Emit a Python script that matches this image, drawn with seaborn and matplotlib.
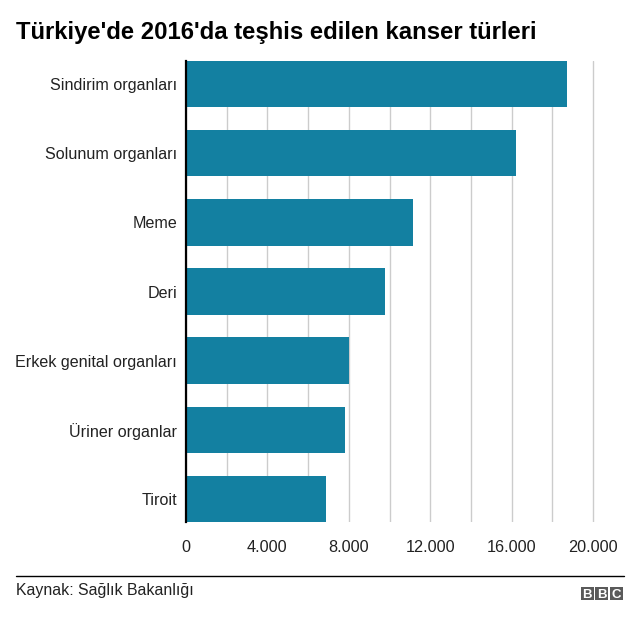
import matplotlib
matplotlib.use("Agg")
import matplotlib.pyplot as plt
import seaborn as sns
import pandas as pd
from matplotlib.patches import Rectangle

categories = ["Sindirim organları", "Solunum organları", "Meme", "Deri",
              "Erkek genital organları", "Üriner organlar", "Tiroit"]
values = [18720, 16200, 11150, 9800, 7990, 7830, 6900]
tick_values = [0, 4000, 8000, 12000, 16000, 20000]
tick_labels = ["0", "4.000", "8.000", "12.000", "16.000", "20.000"]
title = "Türkiye'de 2016'da teşhis edilen kanser türleri"
source = "Kaynak: Sağlık Bakanlığı"

sns.set_theme(style="white")
plt.rcParams['font.family'] = ['Liberation Sans', 'DejaVu Sans']

df = pd.DataFrame({"kategori": categories, "deger": values})

fig = plt.figure(figsize=(6.4, 6.2), dpi=100)
W, H = 640, 620
px_per_unit = 407 / 20000
xmax = 20300
ax_left = 186 / W
ax_w = xmax * px_per_unit / W
ax_top, ax_bottom = 1 - 61 / H, 1 - 522 / H
ax = fig.add_axes([ax_left, ax_bottom, ax_w, ax_top - ax_bottom])

sns.barplot(data=df, x="deger", y="kategori", color="#1380A1", width=0.67,
            saturation=1, ax=ax, zorder=3, linewidth=0)

ax.set_xlim(0, xmax)
ax.set_ylim(6.335, -0.335)
ax.set_xticks(tick_values)
ax.set_xticklabels(tick_labels)
ax.set_xticks(range(2000, 20000, 4000), minor=True)
ax.grid(axis="x", which="both", color="#cccccc", linewidth=1, zorder=0)
ax.grid(axis="y", visible=False)
ax.tick_params(axis="x", which="both", length=0, labelsize=11.7, colors="#222222", pad=13)
ax.tick_params(axis="y", length=0, labelsize=11.6, colors="#222222", pad=6.5)
ax.set_xlabel("")
ax.set_ylabel("")
for s in ["top", "right", "bottom"]:
    ax.spines[s].set_visible(False)
ax.spines["left"].set_color("#000000")
ax.spines["left"].set_linewidth(1.6)
ax.spines["left"].set_zorder(5)

fig.text(16 / W, 1 - 32 / H, title, fontsize=17.2, fontweight="bold", ha="left", va="center", color="#000000")

# footer line
fig.add_artist(plt.Line2D([16 / W, 624 / W], [1 - 576 / H, 1 - 576 / H], color="#000000", linewidth=1))
fig.text(16 / W, 1 - 591 / H, source, fontsize=11.4, ha="left", va="center", color="#222222")

# BBC logo
bw, bh, gap = 13, 13, 1.5
x0 = 580.5
for i, letter in enumerate("BBC"):
    bx = x0 + i * (bw + gap)
    fig.add_artist(Rectangle((bx / W, 1 - 600 / H), bw / W, bh / H, transform=fig.transFigure,
                             facecolor="#5a5a5a", edgecolor="none"))
    fig.text((bx + bw / 2) / W, 1 - 593.5 / H, letter, fontsize=9.5, fontweight="bold",
             color="white", ha="center", va="center_baseline")

fig.savefig("out.png", dpi=100)
